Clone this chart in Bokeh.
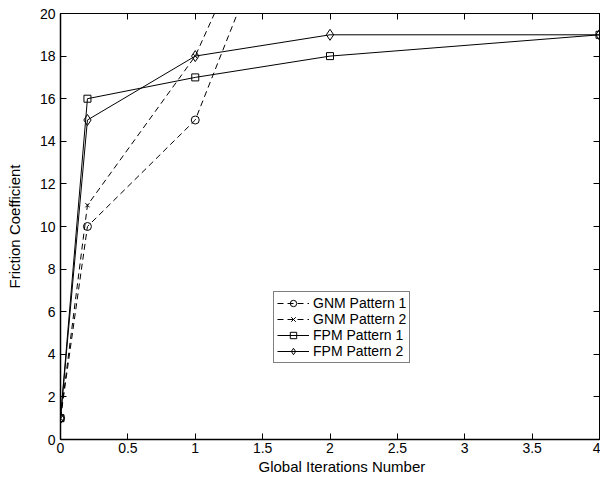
from bokeh.plotting import figure
from bokeh.models import LinearAxis, FixedTicker, Legend, LegendItem, Range1d, Title
from bokeh.embed import file_html
from bokeh.resources import INLINE

# ---- data ----
iterations = [0, 0.2, 1, 2, 4]
gnm_iterations = [0, 0.2, 1, 2]
gnm_pattern1 = [1, 10, 15, 31]
gnm_pattern2 = [1, 11, 18, 32]
fpm_pattern1 = [1, 16, 17, 18, 19]
fpm_pattern2 = [1, 15, 18, 19, 19]

x_ticks = [0, 0.5, 1, 1.5, 2, 2.5, 3, 3.5, 4]
x_tick_labels = ["0", "0.5", "1", "1.5", "2", "2.5", "3", "3.5", "4"]
y_ticks = [0, 2, 4, 6, 8, 10, 12, 14, 16, 18, 20]
y_tick_labels = [str(v) for v in y_ticks]

FONT = "Liberation Sans"

p = figure(width=600, height=478, output_backend="svg", toolbar_location=None,
           x_range=Range1d(0, 4), y_range=Range1d(0, 20),
           min_border_left=60, min_border_right=1, min_border_top=13, min_border_bottom=39,
           y_axis_label="Friction Coefficient")
p.grid.visible = False
p.outline_line_color = "black"
p.outline_line_width = 1
p.background_fill_color = "white"
p.border_fill_color = "white"


def style_axis(ax, ticks, labels, show_labels=True, lw=1.5):
    ax.ticker = FixedTicker(ticks=ticks)
    ax.major_tick_in = 6
    ax.major_tick_out = 0
    ax.minor_tick_line_color = None
    ax.axis_line_color = "black"
    ax.axis_line_width = lw
    ax.major_tick_line_color = "black"
    ax.major_label_text_font = FONT
    if show_labels:
        ax.major_label_overrides = {t: l for t, l in zip(ticks, labels)}
        ax.major_label_text_font_size = "14px"
        ax.major_label_text_color = "black"
    else:
        ax.major_label_text_font_size = "1px"
        ax.major_label_text_color = None
        ax.major_label_standoff = 0


style_axis(p.xaxis[0], x_ticks, x_tick_labels)
p.xaxis[0].major_label_standoff = 3
style_axis(p.yaxis[0], y_ticks, y_tick_labels)
p.yaxis[0].major_label_standoff = 5
ya = p.yaxis[0]
ya.axis_label_text_font = FONT
ya.axis_label_text_font_size = "15px"
ya.axis_label_text_font_style = "normal"
ya.axis_label_text_color = "black"
ya.axis_label_standoff = 14

right = LinearAxis()
style_axis(right, y_ticks, y_tick_labels, show_labels=False, lw=1)
p.add_layout(right, "right")
top = LinearAxis()
style_axis(top, x_ticks, x_tick_labels, show_labels=False, lw=1)
p.add_layout(top, "above")

# x axis label, set slightly right of centre as in the reference
xlabel = Title(text="Global Iterations Number", align="left", offset=198,
               text_font=FONT, text_font_size="15px", text_font_style="normal",
               text_color="black", standoff=0)
p.add_layout(xlabel, "below")

# ---- series ----
l1 = p.line(gnm_iterations, gnm_pattern1, line_color="black", line_width=1, line_dash="6 4")
s1 = p.scatter(gnm_iterations, gnm_pattern1, marker="circle", size=8,
               line_color="black", fill_color=None, line_width=1)
l2 = p.line(gnm_iterations, gnm_pattern2, line_color="black", line_width=1, line_dash="6 4")
s2 = p.scatter(gnm_iterations, gnm_pattern2, marker="x", size=6,
               line_color="black", line_width=1)
l3 = p.line(iterations, fpm_pattern1, line_color="black", line_width=1)
s3 = p.scatter(iterations, fpm_pattern1, marker="square", size=7,
               line_color="black", fill_color=None, line_width=1)
l4 = p.line(iterations, fpm_pattern2, line_color="black", line_width=1)
s4 = p.scatter(iterations, fpm_pattern2, marker="diamond", size=11,
               line_color="black", fill_color=None, line_width=1)

legend = Legend(items=[
    LegendItem(label="GNM Pattern 1", renderers=[l1, s1]),
    LegendItem(label="GNM Pattern 2", renderers=[l2, s2]),
    LegendItem(label="FPM Pattern 1", renderers=[l3, s3]),
    LegendItem(label="FPM Pattern 2", renderers=[l4, s4]),
], location=(213, 76))
legend.border_line_color = "black"
legend.border_line_width = 1.5
legend.background_fill_color = "white"
legend.background_fill_alpha = 1
legend.padding = 3
legend.spacing = 0
legend.margin = 0
legend.label_text_font = FONT
legend.label_text_font_size = "14px"
legend.label_text_line_height = 1.0
legend.label_text_color = "black"
legend.label_height = 16
legend.glyph_height = 16
legend.glyph_width = 32
legend.label_standoff = 4
p.add_layout(legend, "center")

open("out.html", "w").write(file_html(p, INLINE))
